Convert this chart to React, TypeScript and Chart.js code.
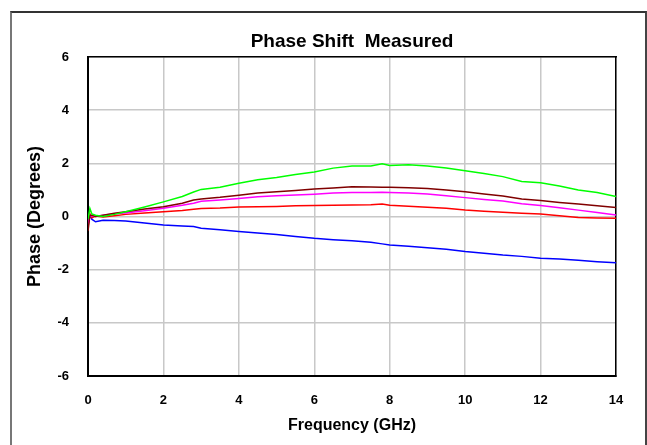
import React, { useEffect, useRef } from "react";
import { Chart, registerables } from "chart.js";

Chart.register(...registerables);

const freq = [0, 0.05, 0.1, 0.2, 0.4, 0.7, 1, 1.5, 2, 2.5, 2.8, 3, 3.5, 4, 4.5, 5, 5.5, 6, 6.5, 7, 7.5, 7.8, 8, 8.5, 9, 9.5, 10, 10.5, 11, 11.5, 12, 12.5, 13, 13.5, 14];

const greenSeries = [-0.1, 0.3, 0.1, 0.05, 0.0, 0.08, 0.18, 0.36, 0.55, 0.75, 0.92, 1.02, 1.1, 1.25, 1.38, 1.47, 1.58, 1.67, 1.82, 1.9, 1.9, 1.98, 1.92, 1.95, 1.9, 1.82, 1.72, 1.62, 1.5, 1.32, 1.27, 1.15, 1.0, 0.9, 0.75];
const brownSeries = [-0.55, 0.05, 0.05, 0.0, 0.05, 0.12, 0.18, 0.28, 0.37, 0.5, 0.62, 0.66, 0.72, 0.8, 0.88, 0.93, 0.98, 1.03, 1.07, 1.12, 1.11, 1.1, 1.1, 1.08, 1.05, 1.0, 0.93, 0.85, 0.77, 0.66, 0.6, 0.53, 0.47, 0.4, 0.34];
const magentaSeries = [-0.3, 0.05, 0.02, 0.0, 0.05, 0.1, 0.13, 0.22, 0.31, 0.42, 0.5, 0.57, 0.62, 0.68, 0.74, 0.78, 0.81, 0.84, 0.88, 0.9, 0.9, 0.91, 0.9, 0.88, 0.85, 0.78, 0.71, 0.64, 0.58, 0.48, 0.41, 0.33, 0.24, 0.15, 0.06];
const redSeries = [-0.4, 0.1, -0.05, 0.02, -0.02, 0.03, 0.08, 0.13, 0.18, 0.23, 0.27, 0.3, 0.32, 0.36, 0.37, 0.38, 0.4, 0.41, 0.42, 0.43, 0.44, 0.47, 0.42, 0.39, 0.35, 0.31, 0.24, 0.2, 0.16, 0.12, 0.09, 0.03, -0.04, -0.06, -0.07];
const blueSeries = [-0.3, 0.05, -0.1, -0.2, -0.14, -0.15, -0.17, -0.24, -0.32, -0.36, -0.38, -0.44, -0.5, -0.56, -0.62, -0.68, -0.75, -0.82, -0.87, -0.91, -0.97, -1.03, -1.07, -1.12, -1.18, -1.23, -1.32, -1.38, -1.45, -1.5, -1.57, -1.6, -1.65, -1.7, -1.74];

const xTicks = [0, 2, 4, 6, 8, 10, 12, 14];
const yTicks = [-6, -4, -2, 0, 2, 4, 6];

const FONT = "'Liberation Sans', Arial, sans-serif";

const toPoints = (ys: number[]) => freq.map((x, i) => ({ x, y: ys[i] }));

export default function App() {
  const ref = useRef<HTMLCanvasElement | null>(null);
  useEffect(() => {
    if (!ref.current) return;
    const mk = (label: string, data: number[], color: string) => ({
      label,
      data: toPoints(data),
      borderColor: color,
      backgroundColor: color,
      borderWidth: 1.5,
      pointRadius: 0,
      tension: 0,
      fill: false,
    });
    const chart = new Chart(ref.current, {
      type: "line",
      data: {
        datasets: [
          mk("Green", greenSeries, "#00ff00"),
          mk("Brown", brownSeries, "#800000"),
          mk("Magenta", magentaSeries, "#ff00ff"),
          mk("Red", redSeries, "#ff0000"),
          mk("Blue", blueSeries, "#0000ff"),
        ],
      },
      options: {
        animation: false,
        responsive: false,
        layout: { padding: 0 },
        plugins: { legend: { display: false }, tooltip: { enabled: false }, title: { display: false } },
        scales: {
          x: {
            type: "linear",
            position: "bottom",
            min: 0,
            max: 14,
            afterBuildTicks: (s: any) => { s.ticks = xTicks.map((v) => ({ value: v })); },
            afterFit: (s: any) => { s.height = 69; },
            ticks: { color: "#000", padding: 17, font: { family: FONT, size: 13, weight: "bold" } },
            grid: { color: "#c8c8c8", lineWidth: 1.5, drawTicks: false },
            border: { color: "#000", width: 2 },
            title: { display: true, text: "Frequency (GHz)", color: "#000", padding: { bottom: 9.9, top: 0 }, font: { family: FONT, size: 16, weight: "bold" } },
          },
          xTop: {
            type: "linear",
            position: "top",
            min: 0,
            max: 14,
            afterFit: (s: any) => { s.height = 57; },
            ticks: { display: false },
            grid: { drawOnChartArea: false, drawTicks: false },
            border: { color: "#000", width: 1.5 },
            title: { display: true, text: "Phase Shift  Measured", color: "#000", padding: { top: 30.1, bottom: 0 }, font: { family: FONT, size: 19, weight: "bold" } },
          },
          y: {
            type: "linear",
            position: "left",
            min: -6,
            max: 6,
            afterBuildTicks: (s: any) => { s.ticks = yTicks.map((v) => ({ value: v })); },
            afterFit: (s: any) => { s.width = 88; },
            ticks: { color: "#000", padding: 19, font: { family: FONT, size: 13, weight: "bold" } },
            grid: { color: "#c8c8c8", lineWidth: 1.5, drawTicks: false },
            border: { color: "#000", width: 2 },
            title: { display: true, text: "Phase (Degrees)", color: "#000", padding: { top: 24.2, bottom: 0 }, font: { family: FONT, size: 18, weight: "bold" } },
          },
          yRight: {
            type: "linear",
            position: "right",
            min: -6,
            max: 6,
            afterFit: (s: any) => { s.width = 31; },
            ticks: { display: false },
            grid: { drawOnChartArea: false, drawTicks: false },
            border: { color: "#000", width: 1.5 },
          },
        },
      } as any,
    });
    return () => chart.destroy();
  }, []);

  return (
    <div style={{ position: "absolute", left: 0, top: 0, width: 647, height: 445, overflow: "hidden", background: "#fff" }}>
      <div style={{ position: "absolute", left: 10, top: 11, width: 633, height: 440, borderTop: "2px solid #333", borderLeft: "2px solid #777", borderRight: "2px solid #444" }} />
      <canvas ref={ref} width={647} height={445} style={{ position: "absolute", left: 0, top: 0, width: 647, height: 445 }} />
    </div>
  );
}
